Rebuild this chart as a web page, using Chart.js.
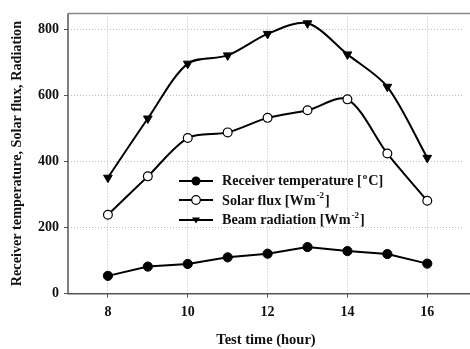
<!DOCTYPE html>
<html>
<head>
<meta charset="utf-8">
<script src="https://cdn.jsdelivr.net/npm/chart.js@4/dist/chart.umd.min.js"></script>
<style>
  html, body { margin: 0; padding: 0; background: #fff; }
  #wrap { position: relative; width: 470px; height: 349px; }
  #legend { position: absolute; left: 179px; top: 171px; font: bold 14.2px "Liberation Serif", "Times New Roman", serif; color: #111; }
  #legend .row { height: 19.5px; display: flex; align-items: center; white-space: nowrap; }
  #legend svg { margin-right: 9px; }
  #legend .sup { font-size: 9px; position: relative; top: -5px; padding: 0 1px; }
</style>
</head>
<body>
<div id="wrap">
  <canvas id="c" width="470" height="349"></canvas>
  <div id="legend">
    <div class="row"><svg width="34" height="12"><line x1="0" y1="6" x2="34" y2="6" stroke="#000" stroke-width="2"/><circle cx="17" cy="6" r="4.5" fill="#000"/></svg>Receiver temperature [<span class="sup">o</span>C]</div>
    <div class="row"><svg width="34" height="12"><line x1="0" y1="6" x2="34" y2="6" stroke="#000" stroke-width="2"/><circle cx="17" cy="6" r="4.3" fill="#fff" stroke="#000" stroke-width="1.2"/></svg>Solar flux [Wm<span class="sup">-2</span>]</div>
    <div class="row"><svg width="34" height="12"><line x1="0" y1="6" x2="34" y2="6" stroke="#000" stroke-width="2"/><polygon points="13,3.5 21,3.5 17,9.5" fill="#000"/></svg>Beam radiation [Wm<span class="sup">-2</span>]</div>
  </div>
</div>
<script>
const hours = [8, 9, 10, 11, 12, 13, 14, 15, 16];
const receiverTemp = [54, 82, 90, 110, 121, 141, 129, 120, 91];
const solarFlux = [239, 355, 471, 488, 532, 555, 588, 424, 281];
const beamRadiation = [351, 530, 696, 721, 786, 818, 724, 626, 411];
const xTickValues = [8, 10, 12, 14, 16];
const yTickValues = [0, 200, 400, 600, 800];

const toXY = (arr) => hours.map((h, i) => ({ x: h, y: arr[i] }));
const serif = '"Liberation Serif", "Times New Roman", serif';

const frame = {
  id: 'frame',
  afterDraw(chart) {
    const { ctx, chartArea: a } = chart;
    ctx.save();
    ctx.strokeStyle = '#8a8a8a';
    ctx.lineWidth = 1.5;
    ctx.beginPath();
    ctx.moveTo(a.left, a.top);
    ctx.lineTo(chart.width, a.top);
    ctx.stroke();
    ctx.strokeStyle = '#555';
    ctx.beginPath();
    ctx.moveTo(a.left, a.top);
    ctx.lineTo(a.left, a.bottom);
    ctx.lineTo(chart.width, a.bottom);
    ctx.stroke();
    ctx.restore();
  }
};

new Chart(document.getElementById('c'), {
  type: 'line',
  data: {
    datasets: [
      {
        label: 'Receiver temperature [oC]',
        data: toXY(receiverTemp),
        borderColor: '#000', borderWidth: 2,
        pointStyle: 'circle', pointRadius: 4.6,
        pointBackgroundColor: '#000', pointBorderColor: '#000', pointBorderWidth: 1,
        tension: 0
      },
      {
        label: 'Solar flux [Wm-2]',
        data: toXY(solarFlux),
        borderColor: '#000', borderWidth: 2,
        pointStyle: 'circle', pointRadius: 4.4,
        pointBackgroundColor: '#fff', pointBorderColor: '#000', pointBorderWidth: 1.2,
        tension: 0.3
      },
      {
        label: 'Beam radiation [Wm-2]',
        data: toXY(beamRadiation),
        borderColor: '#000', borderWidth: 2,
        pointStyle: 'triangle', rotation: 180, pointRadius: 5,
        pointBackgroundColor: '#000', pointBorderColor: '#000', pointBorderWidth: 1,
        tension: 0.3
      }
    ]
  },
  options: {
    responsive: false,
    animation: false,
    layout: { padding: { left: 0, right: 0, top: 11, bottom: 0 } },
    plugins: { legend: { display: false }, tooltip: { enabled: false } },
    scales: {
      x: {
        type: 'linear', min: 7, max: 16.92,
        afterBuildTicks: (s) => { s.ticks = xTickValues.map(v => ({ value: v })); },
        afterFit: (s) => { s.height = 55.3; },
        border: { display: false, dash: [1, 2] },
        grid: { color: '#bdbdbd', lineWidth: 1, tickColor: '#555', tickLength: 4, tickBorderDash: [] },
        ticks: { color: '#111', font: { family: serif, weight: 'bold', size: 14 }, padding: 6, maxRotation: 0 },
        title: { display: true, text: 'Test time (hour)', color: '#111', font: { family: serif, weight: 'bold', size: 14.5 }, padding: { top: 9, bottom: 0 } }
      },
      y: {
        type: 'linear', min: 0, max: 848,
        afterBuildTicks: (s) => { s.ticks = yTickValues.map(v => ({ value: v })); },
        afterFit: (s) => { s.width = 68; },
        border: { display: false, dash: [1, 2] },
        grid: { color: '#bdbdbd', lineWidth: 1, tickColor: '#555', tickLength: 4, tickBorderDash: [] },
        ticks: { color: '#111', font: { family: serif, weight: 'bold', size: 14 }, padding: 5 },
        title: { display: true, text: 'Receiver temperature, Solar flux, Radiation', color: '#111', font: { family: serif, weight: 'bold', size: 14.2 }, padding: { top: 9, bottom: 4 } }
      }
    }
  },
  plugins: [frame]
});
</script>
</body>
</html>
